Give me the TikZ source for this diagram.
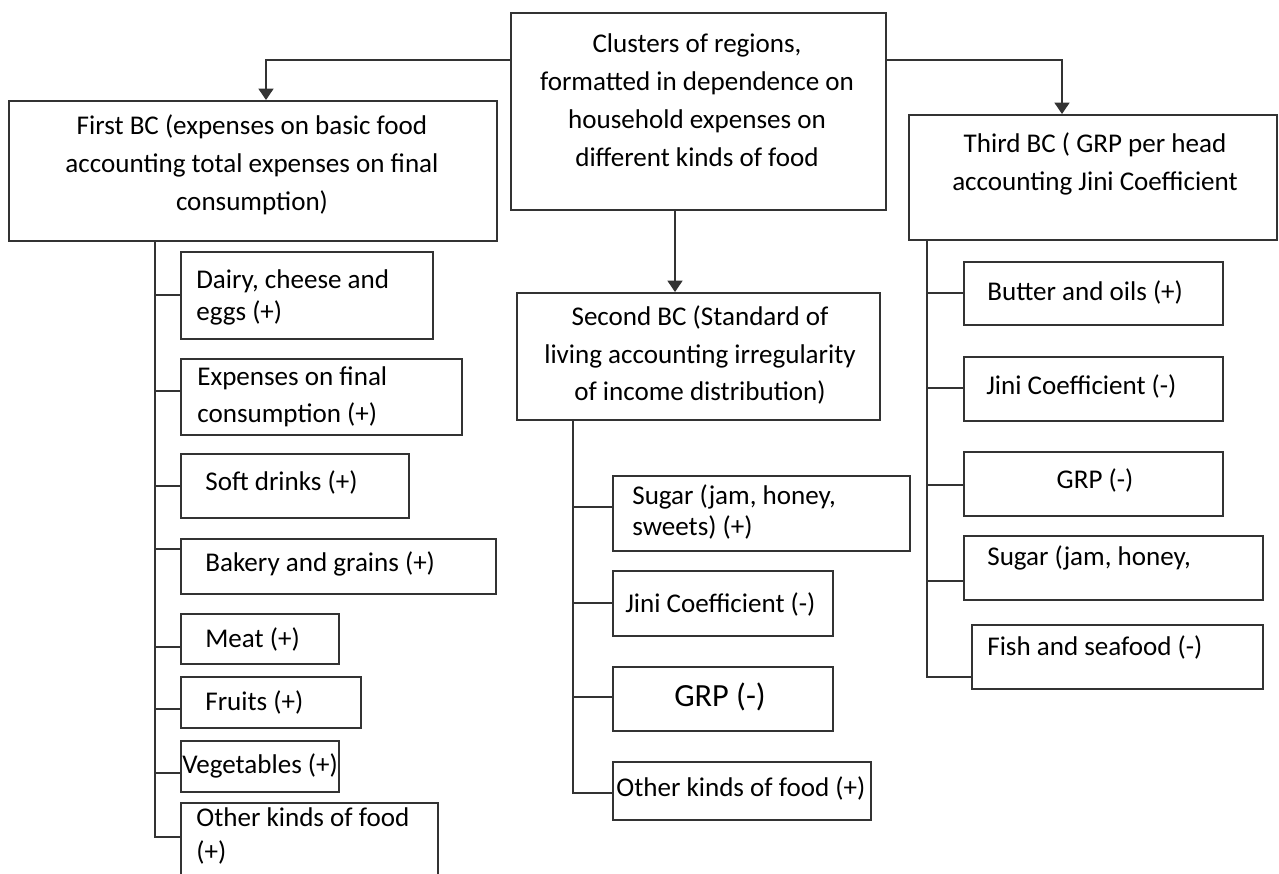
\documentclass[tikz,border=0pt]{standalone}
\usepackage{fontspec}
\setmainfont{Carlito}
\usepackage{tikz}
\usetikzlibrary{fit, arrows.meta}
\tikzstyle{box}  = [rectangle, draw=black!80, line width=1.1pt, inner sep=0pt]
\tikzstyle{head} = [align=center, inner sep=0pt, font=\fontsize{15.4}{21.6}\selectfont]
\tikzstyle{item} = [align=left, anchor=west, inner sep=0pt, font=\fontsize{15.4}{21}\selectfont]
\tikzstyle{link} = [draw=black!80, line width=1.1pt]
\tikzstyle{arr}  = [link, -{Triangle[length=6.5pt, width=8.5pt]}]

\begin{document}
\begin{tikzpicture}[x=0.02cm, y=-0.02cm]
    \useasboundingbox (0,0) rectangle (1279,874);
    \clip (0,0) rectangle (1279,874);

    % top and the three BC boxes
    \node[box, fit={(511,13) (886,210)}] (root) {};
    \node[box, fit={(9,101) (497,241)}] (first) {};
    \node[box, fit={(517,293) (880,420)}] (second) {};
    \node[box, fit={(909,115) (1277,240)}] (third) {};
    \node[head] (root-t) at (697,100) {Clusters of regions,\\formatted in dependence on\\household expenses on\\different kinds of food};
    \node[head] (first-t) at (252,165) {First BC (expenses on basic food\\accounting total expenses on final\\consumption)};
    \node[head] (second-t) at (700,355) {Second BC (Standard of\\living accounting irregularity\\of income distribution)};
    \node[head] (third-t) at (1095,164) {Third BC ( GRP per head\\accounting Jini Coefficient};

    % first BC
    \node[box, fit={(181,252) (433,339)}] (dairy) {};
    \node[box, fit={(181,359) (462,435)}] (expen) {};
    \node[box, fit={(181,454) (409,518)}] (soft) {};
    \node[box, fit={(181,539) (496,594)}] (bakery) {};
    \node[box, fit={(181,614) (339,664)}] (meat) {};
    \node[box, fit={(181,677) (361,728)}] (fruits) {};
    \node[box, fit={(181,741) (339,792)}] (veg) {};
    \node[box, fit={(181,803) (438,880)}] (oth1) {};
    \node[item, font=\fontsize{15.4}{18.2}\selectfont] (dairy-t) at (196,297) {Dairy, cheese and\\eggs (+)};
    \node[item] (expen-t) at (197,397) {Expenses on final\\consumption (+)};
    \node[item] (soft-t) at (205,482) {Soft drinks (+)};
    \node[item] (bakery-t) at (205,564) {Bakery and grains (+)};
    \node[item] (meat-t) at (205,639) {Meat (+)};
    \node[item] (fruits-t) at (205,702) {Fruits (+)};
    \node[item] (veg-t) at (182,766) {Vegetables (+)};
    \node[item, font=\fontsize{15.4}{19.3}\selectfont] (oth1-t) at (196,836) {Other kinds of food\\(+)};

    % second BC
    \node[box, fit={(613,476) (910,551)}] (sugar2) {};
    \node[box, fit={(613,571) (833,636)}] (jini2) {};
    \node[box, fit={(613,667) (833,731)}] (grp2) {};
    \node[box, fit={(613,762) (871,820)}] (oth2) {};
    \node[item, font=\fontsize{15.4}{17.6}\selectfont] (sugar2-t) at (632,512) {Sugar (jam, honey,\\sweets) (+)};
    \node[item] (jini2-t) at (625,604) {Jini Coefficient (-)};
    \node[head, font=\fontsize{18.4}{22}\selectfont] (grp2-t) at (720,697) {GRP (-)};
    \node[item] (oth2-t) at (616,788) {Other kinds of food (+)};

    % third BC
    \node[box, fit={(964,262) (1223,325)}] (butter) {};
    \node[box, fit={(964,357) (1223,421)}] (jini3) {};
    \node[box, fit={(964,452) (1223,516)}] (grp3) {};
    \node[box, fit={(964,536) (1263,600)}] (sugar3) {};
    \node[box, fit={(972,625) (1263,689)}] (fish) {};
    \node[item] (butter-t) at (987,292) {Butter and oils (+)};
    \node[item] (jini3-t) at (986,386) {Jini Coefficient (-)};
    \node[head] (grp3-t) at (1095,480) {GRP (-)};
    \node[item] (sugar3-t) at (987,558) {Sugar (jam, honey,};
    \node[item] (fish-t) at (987,647) {Fish and seafood (-)};

    % arrows from the top box
    \draw[arr] (root.west |- 0,60) -| (first.north -| 266,0);
    \draw[arr] (root.east |- 0,60) -| (third.north -| 1062,0);
    \draw[arr] (root.south -| 675,0) -- (second.north -| 675,0);

    % trunks and branches
    \coordinate (t1) at (155,0);
    \coordinate (t2) at (573,0);
    \coordinate (t3) at (927,0);
    \draw[link] (first.south -| t1) |- (oth1.west |- 0,837);
    \draw[link] (second.south -| t2) |- (oth2.west |- 0,793);
    \draw[link] (third.south -| t3) |- (fish.west |- 0,677);
    \foreach \n/\y in {dairy/295, expen/391, soft/486, bakery/549, meat/647, fruits/709, veg/773}
        \draw[link] (t1 |- 0,\y) -- (\n.west |- 0,\y);
    \foreach \n/\y in {sugar2/507, jini2/603, grp2/697}
        \draw[link] (t2 |- 0,\y) -- (\n.west |- 0,\y);
    \foreach \n/\y in {butter/293, jini3/388, grp3/485, sugar3/581}
        \draw[link] (t3 |- 0,\y) -- (\n.west |- 0,\y);
\end{tikzpicture}
\end{document}
